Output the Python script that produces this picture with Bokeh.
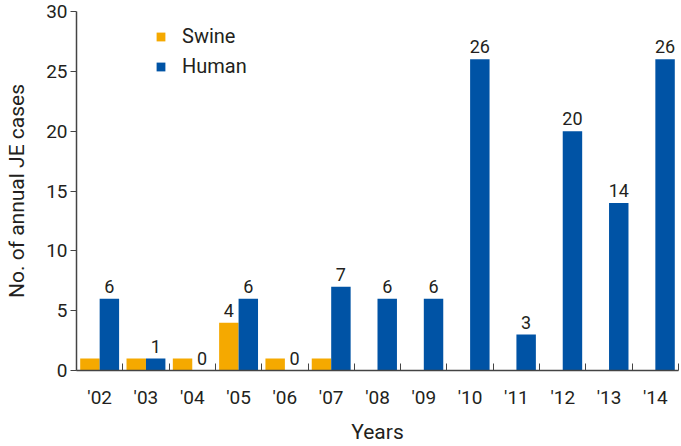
from bokeh.plotting import figure
from bokeh.models import ColumnDataSource, FixedTicker, Legend, LegendItem
from bokeh.transform import dodge
from bokeh.core.properties import value
from bokeh.embed import file_html
from bokeh.resources import INLINE

years = ["'02", "'03", "'04", "'05", "'06", "'07", "'08", "'09", "'10", "'11", "'12", "'13", "'14"]
swine = [1, 1, 1, 4, 1, 1, 0, 0, 0, 0, 0, 0, 0]
human = [6, 1, 0, 6, 0, 7, 6, 6, 26, 3, 20, 14, 26]
swine_labels = ["", "", "", "4", "", "", "", "", "", "", "", "", ""]
human_labels = [str(v) for v in human]
y_ticks = [0, 5, 10, 15, 20, 25, 30]

FONT = "Roboto"
TXT = "#231f20"
AX = "#444444"
SWINE_C = "#f5a900"
HUMAN_C = "#0053a5"

idx = list(range(len(years)))
src = ColumnDataSource(dict(x=idx, swine=swine, human=human,
                            slab=swine_labels, hlab=human_labels))

p = figure(width=681, height=446, output_backend="svg", toolbar_location=None,
           x_range=(-0.5, len(years) - 0.5), y_range=(0, 30),
           min_border_left=76, min_border_right=3, min_border_top=11, min_border_bottom=74)
p.outline_line_color = None
p.xgrid.grid_line_color = None
p.ygrid.grid_line_color = None

bw = 0.42
r1 = p.vbar(x=dodge("x", -bw / 2), top="swine", width=bw, source=src,
            fill_color=SWINE_C, line_color=None)
r2 = p.vbar(x=dodge("x", bw / 2), top="human", width=bw, source=src,
            fill_color=HUMAN_C, line_color=None)

p.text(x=dodge("x", -bw / 2), y="swine", text="slab", source=src,
       text_align="center", text_baseline="bottom", y_offset=-6,
       text_font=value(FONT), text_font_size="18px", text_color=TXT)
p.text(x=dodge("x", bw / 2), y="human", text="hlab", source=src,
       text_align="center", text_baseline="bottom", y_offset=-6,
       text_font=value(FONT), text_font_size="18px", text_color=TXT)

# x axis
boundaries = [i - 0.5 for i in range(len(years) + 1)]
p.xaxis.ticker = FixedTicker(ticks=idx, minor_ticks=boundaries)
p.xaxis.major_label_overrides = {i: years[i] for i in idx}
p.xaxis.major_tick_line_color = None
p.xaxis.major_tick_out = 0
p.xaxis.minor_tick_in = 7
p.xaxis.minor_tick_out = 0
p.xaxis.minor_tick_line_color = AX
p.xaxis.axis_line_color = AX
p.xaxis.axis_line_width = 1.5
p.xaxis.major_label_standoff = 15
p.xaxis.major_label_text_font = FONT
p.xaxis.major_label_text_font_size = "19px"
p.xaxis.major_label_text_color = TXT
p.xaxis.axis_label = "Years"
p.xaxis.axis_label_text_font = FONT
p.xaxis.axis_label_text_font_size = "21px"
p.xaxis.axis_label_text_font_style = "normal"
p.xaxis.axis_label_text_color = TXT
p.xaxis.axis_label_standoff = 8

# y axis
p.yaxis.ticker = FixedTicker(ticks=y_ticks)
p.yaxis.minor_tick_line_color = None
p.yaxis.major_tick_in = 0
p.yaxis.major_tick_out = 6
p.yaxis.major_tick_line_color = AX
p.yaxis.axis_line_color = AX
p.yaxis.axis_line_width = 1.5
p.yaxis.major_label_standoff = 3
p.yaxis.major_label_text_font = FONT
p.yaxis.major_label_text_font_size = "19px"
p.yaxis.major_label_text_color = TXT
p.yaxis.axis_label = "No. of annual JE cases"
p.yaxis.axis_label_text_font = FONT
p.yaxis.axis_label_text_font_size = "21px"
p.yaxis.axis_label_text_font_style = "normal"
p.yaxis.axis_label_text_color = TXT
p.yaxis.axis_label_standoff = 14

legend = Legend(items=[LegendItem(label="Swine", renderers=[r1]),
                       LegendItem(label="Human", renderers=[r2])],
                location=(79, 292), orientation="vertical",
                glyph_width=11, glyph_height=11, label_height=20,
                spacing=6, padding=0, margin=0, label_standoff=16,
                label_text_font=FONT, label_text_font_size="20px",
                label_text_color=TXT, background_fill_alpha=0,
                border_line_color=None)
p.add_layout(legend)

open("out.html", "w").write(file_html(p, INLINE))
